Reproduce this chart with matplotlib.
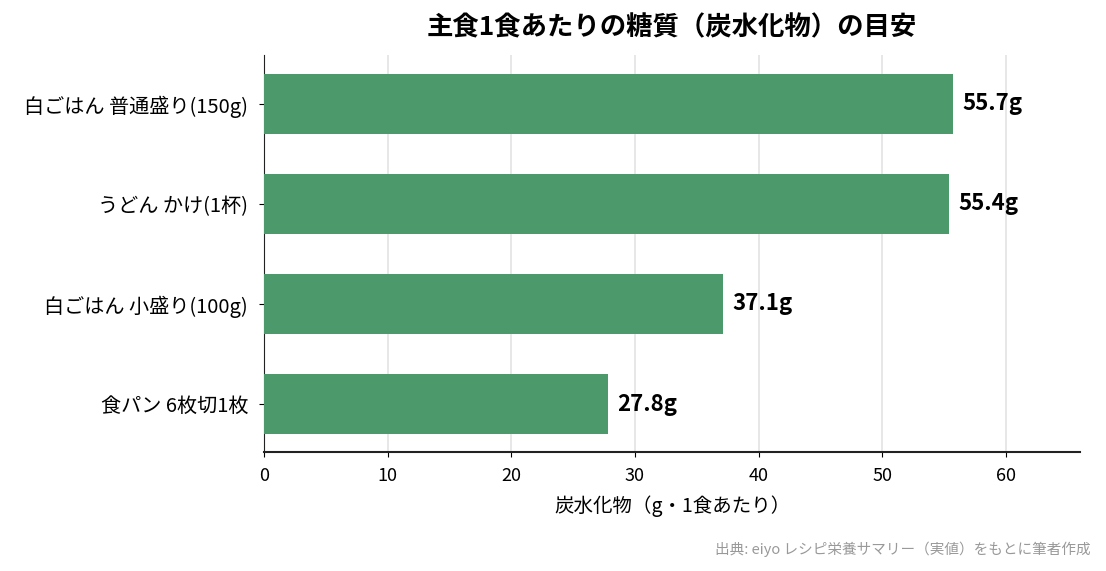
import matplotlib
matplotlib.use("Agg")
import matplotlib.pyplot as plt

plt.rcParams['font.family'] = ['Noto Sans CJK JP', 'DejaVu Sans']

# ==============================
# Data
# ==============================

foods = ["白ごはん 普通盛り(150g)", "うどん かけ(1杯)", "白ごはん 小盛り(100g)", "食パン 6枚切1枚"]
carbs = [55.7, 55.4, 37.1, 27.8]

# ==============================
# Plot
# ==============================

fig = plt.figure(figsize=(11.06, 5.71), dpi=100)
ax = fig.add_axes([0.2387, 0.2084, 0.7378, 0.6953])

ax.barh(range(len(foods)), carbs, height=0.6, color="#4c9a6c", zorder=3)
ax.set_yticks(range(len(foods)))
ax.set_yticklabels(foods, fontsize=14.5)
ax.set_ylim(3.48, -0.49)
ax.set_xlim(0, 66)
ax.set_xticks([0, 10, 20, 30, 40, 50, 60])
ax.tick_params(axis="x", labelsize=13, pad=7)
ax.tick_params(axis="y", pad=8)

for i, v in enumerate(carbs):
    ax.text(v + 0.8, i, f"{v}g", va="center", ha="left",
            fontsize=16, fontweight="bold", color="black")

ax.grid(axis="x", color="#e3e3e3", linewidth=1.2, zorder=0)
ax.spines["top"].set_visible(False)
ax.spines["right"].set_visible(False)
ax.spines["left"].set_color("#222222")
ax.spines["bottom"].set_color("#222222")
ax.spines["bottom"].set_linewidth(1.5)

ax.set_xlabel("炭水化物（g・1食あたり）", fontsize=14, labelpad=8)
ax.set_title("主食1食あたりの糖質（炭水化物）の目安", fontsize=19,
             fontweight="bold", pad=14)

fig.text(0.986, 0.038, "出典: eiyo レシピ栄養サマリー（実値）をもとに筆者作成",
         ha="right", va="center", fontsize=10.5, color="#999999")

fig.savefig("out.png", dpi=100)
